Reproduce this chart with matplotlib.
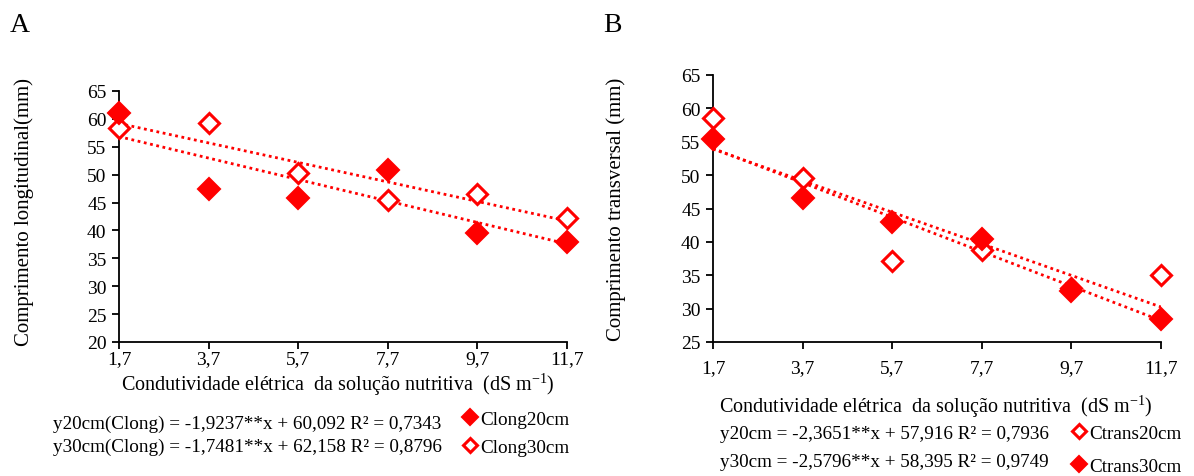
import matplotlib
matplotlib.use("Agg")
import matplotlib.pyplot as plt
import numpy as np

plt.rcParams['font.family'] = ['Liberation Serif', 'DejaVu Serif']
plt.rcParams['mathtext.fontset'] = 'custom'
plt.rcParams['mathtext.rm'] = 'Liberation Serif'

# Condutividade elétrica (dS m-1)
ce = [1.7, 3.7, 5.7, 7.7, 9.7, 11.7]
ce_labels = ['1,7', '3,7', '5,7', '7,7', '9,7', '11,7']

# Comprimento longitudinal (mm)
clong20 = [61.1, 47.5, 45.8, 50.9, 39.5, 38.0]
clong30 = [58.3, 59.2, 50.3, 45.4, 46.6, 42.2]
# coeficientes das retas (a, b) em y = a*x + b
fit_clong20 = (-1.9237, 60.092)
fit_clong30 = (-1.7481, 62.158)

# Comprimento transversal (mm)
ctrans20 = [58.5, 49.5, 37.1, 38.8, 33.1, 35.0]
ctrans30 = [55.4, 46.6, 43.0, 40.5, 32.6, 28.4]
fit_ctrans20 = (-2.3651, 57.916)
fit_ctrans30 = (-2.5796, 58.395)

eq_a = ['y20cm(Clong) = -1,9237**x + 60,092 R² = 0,7343',
        'y30cm(Clong) = -1,7481**x + 62,158 R² = 0,8796']
eq_b = ['y20cm = -2,3651**x + 57,916 R² = 0,7936',
        'y30cm = -2,5796**x + 58,395 R² = 0,9749']

RED = '#ff0000'
FS_TICK = 14
FS_LAB = 15
FS_EQ = 13.8
XLAB = r'Condutividade elétrica  da solução nutritiva  (dS m$^{\mathregular{-1}}$)'

W, H = 1194, 477
fig = plt.figure(figsize=(W / 100, H / 100), dpi=100)
axA = fig.add_axes([119/W, 1-343/H, 448/W, 251/H])
axB = fig.add_axes([713/W, 1-343/H, 448/W, 267/H])


def serie(ax, y, cheio):
    if cheio:
        return ax.plot(ce, y, ls='none', marker='D', ms=11, mfc=RED, mec=RED,
                       mew=1.5, clip_on=False, zorder=4)[0]
    return ax.plot(ce, y, ls='none', marker='D', ms=10, mfc='white', mec=RED,
                   mew=2.2, clip_on=False, zorder=3)[0]


def reta(ax, coef):
    x = np.array([ce[0], ce[-1]])
    ax.plot(x, coef[0] * x + coef[1], color=RED, ls=(0, (1, 1.3)), lw=2, zorder=2)


def eixos(ax, ylim, ylabel):
    ax.set_xlim(ce[0], ce[-1])
    ax.set_ylim(*ylim)
    ax.set_xticks(ce)
    ax.set_xticklabels(ce_labels)
    ax.set_yticks(np.arange(ylim[0], ylim[1] + 1, 5))
    for s in ['top', 'right']:
        ax.spines[s].set_visible(False)
    for s in ['left', 'bottom']:
        ax.spines[s].set_linewidth(1.3)
    ax.tick_params(direction='out', length=5, width=1.3, labelsize=FS_TICK, pad=4)
    ax.set_ylabel(ylabel, fontsize=FS_LAB)


def texto(px, py, s, **kw):
    fig.text(px/W, 1-py/H, s, va='center', **kw)


# Painel A
reta(axA, fit_clong20)
reta(axA, fit_clong30)
hA20 = serie(axA, clong20, True)
hA30 = serie(axA, clong30, False)
eixos(axA, (20, 65), 'Comprimento longitudinal(mm)')
axA.yaxis.set_label_coords(-0.19, 0.52)
axA.tick_params(axis='x', pad=1)
texto(338, 385, XLAB, ha='center', fontsize=FS_LAB - 0.5)
texto(53, 424, eq_a[0], ha='left', fontsize=FS_EQ)
texto(53, 447, eq_a[1], ha='left', fontsize=FS_EQ)

# Painel B
reta(axB, fit_ctrans20)
reta(axB, fit_ctrans30)
hB20 = serie(axB, ctrans20, False)
hB30 = serie(axB, ctrans30, True)
eixos(axB, (25, 65), 'Comprimento transversal (mm)')
axB.yaxis.set_label_coords(-0.195, 0.5)
axB.tick_params(axis='x', pad=7)
texto(936, 407, XLAB, ha='center', fontsize=FS_LAB - 0.5)
texto(720, 435, eq_b[0], ha='left', fontsize=FS_EQ)
texto(720, 463, eq_b[1], ha='left', fontsize=FS_EQ)

# legendas, uma entrada por vez
legendas = [(hA20, 'Clong20cm', 463, 420), (hA30, 'Clong30cm', 463, 448),
            (hB20, 'Ctrans20cm', 1072, 434), (hB30, 'Ctrans30cm', 1072, 467)]
for h, txt, px, py in legendas:
    fig.legend(handles=[h], labels=[txt], loc='center left',
               bbox_to_anchor=(px/W, 1-py/H), frameon=False,
               fontsize=FS_EQ, handlelength=0.7, handletextpad=0.2,
               borderpad=0, borderaxespad=0, markerscale=0.72)

texto(10, 25, 'A', fontsize=20)
texto(603, 25, 'B', fontsize=20)

fig.savefig('out.png', dpi=100)
